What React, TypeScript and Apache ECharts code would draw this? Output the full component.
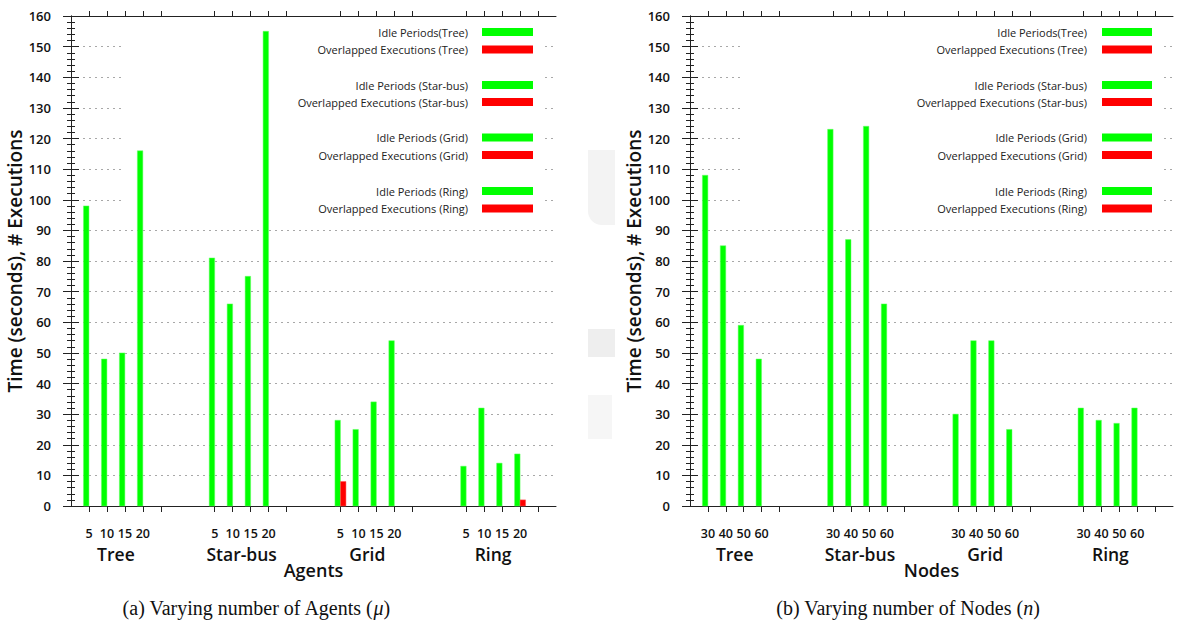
import React, { useEffect, useRef } from 'react';
import * as echarts from 'echarts';

const groups = ['Tree', 'Star-bus', 'Grid', 'Ring'];
const agentLabels = ['5', '10', '15', '20'];
const nodeLabels = ['30', '40', '50', '60'];
const idleAgents = [98, 48, 50, 116, 81, 66, 75, 155, 28, 25, 34, 54, 13, 32, 14, 17];
const overlapAgents = [0, 0, 0, 0, 0, 0, 0, 0, 8, 0, 0, 0, 0, 0, 0, 2];
const idleNodes = [108, 85, 59, 48, 123, 87, 124, 66, 30, 54, 54, 25, 32, 28, 27, 32];
const overlapNodes = [0, 0, 0, 0, 0, 0, 0, 0, 0, 0, 0, 0, 0, 0, 0, 0];
const legendLabels = [
  'Idle Periods(Tree)', 'Overlapped Executions (Tree)',
  'Idle Periods (Star-bus)', 'Overlapped Executions (Star-bus)',
  'Idle Periods (Grid)', 'Overlapped Executions (Grid)',
  'Idle Periods (Ring)', 'Overlapped Executions (Ring)',
];
const yMin = 0;
const yMax = 160;
const yStep = 10;

const FONT = 'Open Sans';
const GREEN = '#00ff00';
const RED = '#ff0000';
const AXIS = '#222';

const slot = (g: number, i: number) => g * 7 + i + 1;
const tickValues: number[] = [];
const labelValues: number[] = [];
groups.forEach((_, g) => {
  for (let i = 0; i < 5; i++) tickValues.push(slot(g, i));
  for (let i = 0; i < 4; i++) labelValues.push(slot(g, i));
});
const groupValues = groups.map((_, g) => g * 7 + 2.5);

function barRender(side: 'left' | 'right', color: string) {
  return (params: any, api: any) => {
    const x = api.value(0);
    const v = api.value(1);
    if (!v) return null;
    const p0 = api.coord([x, 0]);
    const p1 = api.coord([x, v]);
    const w = 5.5;
    const left = side === 'left' ? p0[0] - w : p0[0];
    return {
      type: 'rect',
      shape: { x: left, y: p1[1], width: w, height: p0[1] - p1[1] },
      style: { fill: color, stroke: color === GREEN ? '#66ff66' : '#ff5555', lineWidth: 0.5 },
    };
  };
}

function toData(vals: number[]) {
  return vals.map((v, k) => [slot(Math.floor(k / 4), k % 4), v]);
}

function xAxes(gridIndex: number, labels: string[], name: string) {
  const labelMap = new Map<number, string>();
  labelValues.forEach((v, k) => labelMap.set(v, labels[k % 4]));
  const groupMap = new Map<number, string>();
  groupValues.forEach((v, k) => groupMap.set(v, groups[k]));
  return [
    {
      type: 'value', gridIndex, position: 'bottom', min: 0, max: 27,
      axisLine: { show: true, lineStyle: { color: AXIS, width: 1 } },
      axisTick: { show: true, customValues: tickValues, length: 6, lineStyle: { color: AXIS } },
      axisLabel: {
        show: true, customValues: labelValues, margin: 21,
        formatter: (v: number) => labelMap.get(v) ?? '',
        fontFamily: FONT, fontSize: 12.5, lineHeight: 12, fontWeight: 600, color: '#111',
      },
      splitLine: { show: false },
      name, nameLocation: 'middle', nameGap: 55,
      nameTextStyle: { fontFamily: FONT, fontSize: 18, lineHeight: 17, fontWeight: 600, color: '#111' },
    },
    {
      type: 'value', gridIndex, position: 'bottom', min: 0, max: 27,
      axisLine: { show: false }, axisTick: { show: false },
      axisLabel: {
        show: true, customValues: groupValues, margin: 40,
        formatter: (v: number) => groupMap.get(v) ?? '',
        fontFamily: FONT, fontSize: 17.5, lineHeight: 15, fontWeight: 600, color: '#111',
      },
      splitLine: { show: false },
    },
    {
      type: 'value', gridIndex, position: 'top', min: 0, max: 27,
      axisLine: { show: true, lineStyle: { color: AXIS, width: 1 } },
      axisTick: { show: true, customValues: tickValues, length: 5, lineStyle: { color: AXIS } },
      axisLabel: { show: false },
      splitLine: { show: false },
    },
  ];
}

function yAxes(gridIndex: number) {
  return [
    {
      type: 'value', gridIndex, position: 'left', min: yMin, max: yMax, interval: yStep,
      axisLine: { show: true, lineStyle: { color: AXIS, width: 1 } },
      axisTick: { show: true, length: 8, lineStyle: { color: AXIS } },
      minorTick: { show: true, splitNumber: 5, length: 4, lineStyle: { color: AXIS } },
      axisLabel: { fontFamily: FONT, fontSize: 13, fontWeight: 600, color: '#111', margin: 20 },
      splitLine: { show: true, lineStyle: { color: '#a8a8a8', type: [2, 4], width: 1 } },
      name: 'Time (seconds), # Executions', nameLocation: 'middle', nameGap: 46,
      nameTextStyle: { fontFamily: FONT, fontSize: 19, fontWeight: 600, color: '#111' },
    },
    {
      type: 'value', gridIndex, position: 'right', min: yMin, max: yMax, interval: yStep,
      axisLine: { show: true, lineStyle: { color: AXIS, width: 1 } },
      axisTick: { show: true, length: 8, lineStyle: { color: AXIS } },
      minorTick: { show: true, splitNumber: 5, length: 4, lineStyle: { color: AXIS } },
      axisLabel: { show: false },
      splitLine: { show: false },
    },
  ];
}

function legendGraphics(textRight: number, swatchX: number, swatchW: number, box: number[]) {
  const rows = [32, 49.5, 85, 102, 137.5, 155, 191, 208.5];
  const els: any[] = [
    { type: 'rect', z: 1, silent: true, shape: { x: box[0], y: box[1], width: box[2], height: box[3] }, style: { fill: '#fff' } },
  ];
  legendLabels.forEach((t, k) => {
    els.push({
      type: 'text', z: 5, x: textRight, y: rows[k],
      style: { text: t, fontFamily: FONT, fontSize: 11, fill: '#222', align: 'right', verticalAlign: 'middle' },
    });
    els.push({
      type: 'rect', z: 5, shape: { x: swatchX, y: rows[k] - 4, width: swatchW, height: 8 },
      style: { fill: k % 2 === 0 ? GREEN : RED },
    });
  });
  return els;
}

export default function App() {
  const ref = useRef<HTMLDivElement>(null);
  useEffect(() => {
    if (!ref.current) return;
    const chart = echarts.init(ref.current, undefined, { renderer: 'svg' });
    const captionStyle = (text: string) => ({
      text,
      rich: { i: { fontFamily: 'Liberation Serif', fontStyle: 'italic', fontSize: 20, fill: '#111' } },
      fontFamily: 'Liberation Serif', fontSize: 20, fill: '#111', align: 'center', verticalAlign: 'middle',
    });
    const option: any = {
      animation: false,
      backgroundColor: '#fff',
      textStyle: { fontFamily: FONT },
      grid: [
        { left: 71, top: 16, width: 485, height: 490, containLabel: false },
        { left: 690, top: 16, width: 483, height: 490, containLabel: false },
      ],
      xAxis: [...xAxes(0, agentLabels, 'Agents'), ...xAxes(1, nodeLabels, 'Nodes')],
      yAxis: [...yAxes(0), ...yAxes(1)],
      series: [
        { type: 'custom', name: 'Idle Periods (Agents)', xAxisIndex: 0, yAxisIndex: 0, z: 3, data: toData(idleAgents), encode: { x: 0, y: 1 }, renderItem: barRender('left', GREEN) },
        { type: 'custom', name: 'Overlapped Executions (Agents)', xAxisIndex: 0, yAxisIndex: 0, z: 3, data: toData(overlapAgents), encode: { x: 0, y: 1 }, renderItem: barRender('right', RED) },
        { type: 'custom', name: 'Idle Periods (Nodes)', xAxisIndex: 3, yAxisIndex: 2, z: 3, data: toData(idleNodes), encode: { x: 0, y: 1 }, renderItem: barRender('left', GREEN) },
        { type: 'custom', name: 'Overlapped Executions (Nodes)', xAxisIndex: 3, yAxisIndex: 2, z: 3, data: toData(overlapNodes), encode: { x: 0, y: 1 }, renderItem: barRender('right', RED) },
      ],
      graphic: [
        ...legendGraphics(468, 482, 51, [123, 17, 418, 204]),
        ...legendGraphics(1087, 1102, 50, [742, 17, 418, 204]),
        { type: 'rect', z: 0, silent: true, shape: { x: 588, y: 150, width: 27, height: 75, r: [0, 0, 0, 14] }, style: { fill: '#f3f3f3' } },
        { type: 'rect', z: 0, silent: true, shape: { x: 588, y: 329, width: 27, height: 28 }, style: { fill: '#eeeeee' } },
        { type: 'rect', z: 0, silent: true, shape: { x: 588, y: 395, width: 24, height: 44 }, style: { fill: '#f6f6f6' } },
        { type: 'text', x: 256, y: 608, style: captionStyle('(a) Varying number of Agents ({i|μ})') },
        { type: 'text', x: 908, y: 608, style: captionStyle('(b) Varying number of Nodes ({i|n})') },
      ],
    };
    chart.setOption(option);
    return () => chart.dispose();
  }, []);
  return <div ref={ref} style={{ position: 'fixed', left: 0, top: 0, width: 1177, height: 628 }} />;
}
